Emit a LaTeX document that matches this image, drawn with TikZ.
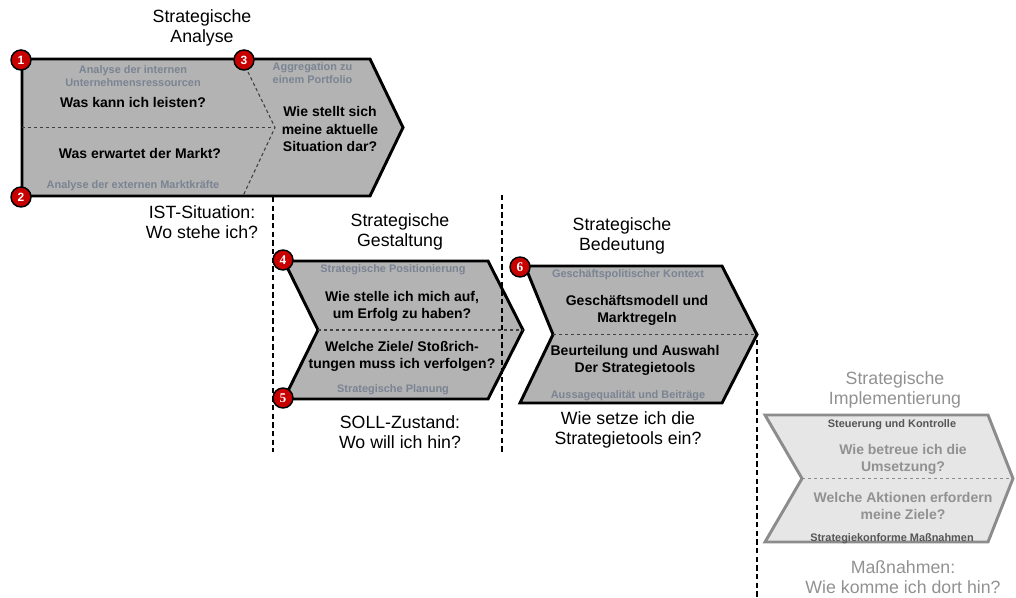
\documentclass[tikz,border=0pt]{standalone}
\usepackage{fontspec}
\setmainfont{Liberation Sans}
\newfontfamily\badgeserif{Liberation Serif}
\usepackage{tikz}
\usetikzlibrary{calc}
\usepackage{xcolor}

\definecolor{chevfill}{RGB}{179,179,179}
\definecolor{hintgray}{RGB}{122,132,146}
\definecolor{palefill}{RGB}{230,230,230}
\definecolor{palestroke}{RGB}{140,140,140}
\definecolor{paletext}{RGB}{145,145,145}
\definecolor{paledark}{RGB}{85,85,85}
\definecolor{badgered}{RGB}{200,0,0}

\begin{document}
\begin{tikzpicture}[x=0.75pt, y=-0.75pt]
        % ================= Stile =================
        \tikzset{
            % Pfeilform (Chevron)
            chev/.style={draw=black, line width=2.2pt, fill=chevfill, line join=miter},
            palechev/.style={draw=palestroke, line width=2.2pt, fill=palefill, line join=miter},
            % Trennlinien
            innerdash/.style={dash pattern=on 2.5pt off 2pt, line width=0.8pt, black!75},
            phase/.style={line width=1.6pt, dash pattern=on 4pt off 2.5pt},
            % Texte
            title/.style={align=center, font=\fontsize{13.3}{15}\selectfont},
            ask/.style={align=center, font=\bfseries\fontsize{10.5}{12.8}\selectfont},
            hint/.style={align=center, text=hintgray, font=\bfseries\fontsize{8.2}{9.8}\selectfont},
            % Nummern
            badge/.style={circle, draw=black, line width=1.1pt, fill=badgered, text=white,
                minimum size=15pt, inner sep=0pt, font=\bfseries\fontsize{9}{9}\selectfont}
        }
        \useasboundingbox (0,0) rectangle (1016,598);

        % ================= Phasengrenzen =================
        \draw[phase] (273,197) -- (273,452);
        \draw[phase] (757,340) -- (757,598);

        % ================= 1: Strategische Analyse =================
        \draw[chev] (22,59) -- (370,59) -- (403,127.5) -- (370,196) -- (22,196) -- cycle;
        \draw[innerdash] (22,127.5) -- (275,127.5);
        \draw[innerdash] (248,72) -- (275,127.5) -- (243,196);

        \node[title] (t1) at (202,28) {Strategische\\Analyse};
        \node[hint] (h1a) at (133,76.5) {Analyse der internen\\Unternehmensressourcen};
        \node[ask] (q1a) at (133,103) {Was kann ich leisten?};
        \node[ask] (q1b) at (140,153) {Was erwartet der Markt?};
        \node[hint] (h1b) at (133,186) {Analyse der externen Marktkräfte};
        \node[hint, align=left, anchor=west] (h1c) at (268,73.5) {Aggregation zu\\einem Portfolio};
        \node[ask] (q1c) at (330,129) {Wie stellt sich\\meine aktuelle\\Situation dar?};
        \node[title] (s1) at (202,222) {IST-Situation:\\Wo stehe ich?};

        % ================= 2: Strategische Gestaltung =================
        \draw[chev] (284,261) -- (488,261) -- (523,330) -- (488,399) -- (284,399) -- (318,330) -- cycle;
        \draw[innerdash] (318,330) -- (523,330);

        \node[title] (t2) at (400,232) {Strategische\\Gestaltung};
        \node[hint] (h2a) at (393,270) {Strategische Positionierung};
        \node[ask] (q2a) at (402,306) {Wie stelle ich mich auf,\\um Erfolg zu haben?};
        \node[ask] (q2b) at (402,356) {Welche Ziele/ Stoßrich-\\tungen muss ich verfolgen?};
        \node[hint] (h2b) at (393,390) {Strategische Planung};
        \node[title] (s2) at (400,432) {SOLL-Zustand:\\Wo will ich hin?};

        \draw[phase] (502,195) -- (502,452);

        % ================= 3: Strategische Bedeutung =================
        \draw[chev] (525,266) -- (722,266) -- (757,334.5) -- (722,403) -- (520,403) -- (553,334.5) -- cycle;
        \draw[innerdash] (553,334.5) -- (757,334.5);

        \node[title] (t3) at (622,236) {Strategische\\Bedeutung};
        \node[hint] (h3a) at (628,275) {Geschäftspolitischer Kontext};
        \node[ask] (q3a) at (637,310) {Geschäftsmodell und\\Marktregeln};
        \node[ask] (q3b) at (635,360) {Beurteilung und Auswahl\\Der Strategietools};
        \node[hint] (h3b) at (628,396) {Aussagequalität und Beiträge};
        \node[title] (s3) at (628,430) {Wie setze ich die\\Strategietools ein?};

        % ================= 4: Strategische Implementierung =================
        \draw[palechev] (765,415) -- (988,415) -- (1013,478.5) -- (988,542) -- (765,542) -- (802,478.5) -- cycle;
        \draw[innerdash, palestroke] (802,478.5) -- (1013,478.5);

        \node[title, text=paletext] (t4) at (895,390) {Strategische\\Implementierung};
        \node[hint, text=paledark] (h4a) at (892,425) {Steuerung und Kontrolle};
        \node[ask, text=paletext] (q4a) at (903,459) {Wie betreue ich die\\Umsetzung?};
        \node[ask, text=paletext] (q4b) at (903,506) {Welche Aktionen erfordern\\meine Ziele?};
        \node[hint, text=paledark] (h4b) at (892,539) {Strategiekonforme Maßnahmen};
        \node[title, text=paletext] (s4) at (903,577) {Maßnahmen:\\Wie komme ich dort hin?};

        % ================= Nummern =================
        \node[badge] (b1) at (21,60) {1};
        \node[badge] (b2) at (21,197) {2};
        \node[badge] (b3) at (244,60) {3};
        \node[badge, font=\badgeserif\bfseries\fontsize{10}{10}\selectfont] (b4) at (283,260) {4};
        \node[badge, font=\badgeserif\bfseries\fontsize{10}{10}\selectfont] (b5) at (283,398) {5};
        \node[badge, font=\badgeserif\bfseries\fontsize{10}{10}\selectfont] (b6) at (520,267) {6};

    \end{tikzpicture}
\end{document}
